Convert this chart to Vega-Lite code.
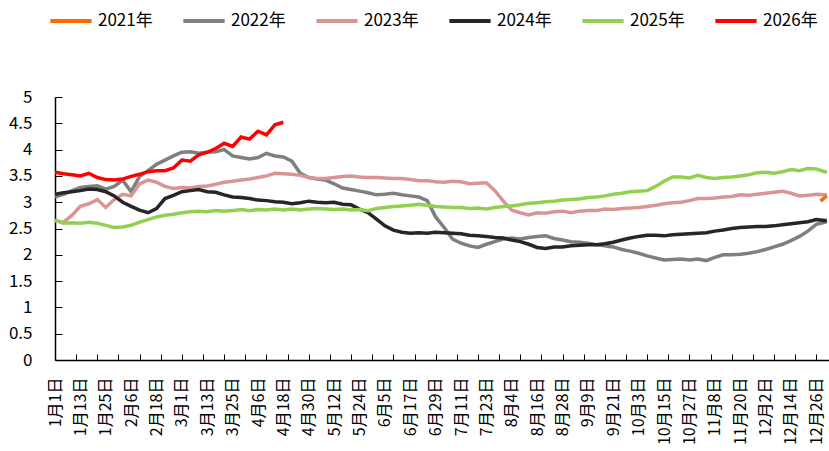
{
  "$schema": "https://vega.github.io/schema/vega-lite/v6.json",
  "width": 774,
  "height": 263,
  "autosize": {"type": "none"},
  "padding": {"left": 55, "top": 97, "right": 0, "bottom": 91},
  "background": "white",
  "config": {"view": {"stroke": null}, "font": "Noto Sans CJK SC"},
  "data": {"values": [
    {"d":0,"2022":3.10,"2023":2.65,"2024":3.15,"2025":2.66,"2026":3.57},
    {"d":4,"2022":3.15,"2023":2.62,"2024":3.18,"2025":2.60,"2026":3.54},
    {"d":8,"2022":3.22,"2023":2.75,"2024":3.20,"2025":2.61,"2026":3.52},
    {"d":12,"2022":3.28,"2023":2.92,"2024":3.22,"2025":2.60,"2026":3.50},
    {"d":16,"2022":3.30,"2023":2.97,"2024":3.25,"2025":2.62,"2026":3.55},
    {"d":20,"2022":3.31,"2023":3.05,"2024":3.24,"2025":2.60,"2026":3.47},
    {"d":24,"2022":3.25,"2023":2.90,"2024":3.20,"2025":2.56,"2026":3.43},
    {"d":28,"2022":3.30,"2023":3.05,"2024":3.12,"2025":2.52,"2026":3.42},
    {"d":32,"2022":3.42,"2023":3.15,"2024":3.00,"2025":2.53,"2026":3.44},
    {"d":36,"2022":3.20,"2023":3.12,"2024":2.92,"2025":2.56,"2026":3.49},
    {"d":40,"2022":3.49,"2023":3.35,"2024":2.85,"2025":2.62,"2026":3.53},
    {"d":44,"2022":3.60,"2023":3.42,"2024":2.80,"2025":2.67,"2026":3.58},
    {"d":48,"2022":3.72,"2023":3.38,"2024":2.88,"2025":2.72,"2026":3.60},
    {"d":52,"2022":3.80,"2023":3.30,"2024":3.07,"2025":2.75,"2026":3.60},
    {"d":56,"2022":3.88,"2023":3.26,"2024":3.13,"2025":2.77,"2026":3.65},
    {"d":60,"2022":3.95,"2023":3.28,"2024":3.20,"2025":2.80,"2026":3.80},
    {"d":64,"2022":3.96,"2023":3.27,"2024":3.22,"2025":2.82,"2026":3.78},
    {"d":68,"2022":3.93,"2023":3.30,"2024":3.24,"2025":2.83,"2026":3.90},
    {"d":72,"2022":3.95,"2023":3.31,"2024":3.20,"2025":2.82,"2026":3.95},
    {"d":76,"2022":3.96,"2023":3.34,"2024":3.19,"2025":2.84,"2026":4.02},
    {"d":80,"2022":4.00,"2023":3.38,"2024":3.14,"2025":2.83,"2026":4.12},
    {"d":84,"2022":3.88,"2023":3.40,"2024":3.10,"2025":2.84,"2026":4.06},
    {"d":88,"2022":3.85,"2023":3.42,"2024":3.09,"2025":2.86,"2026":4.24},
    {"d":92,"2022":3.82,"2023":3.44,"2024":3.07,"2025":2.84,"2026":4.20},
    {"d":96,"2022":3.85,"2023":3.47,"2024":3.04,"2025":2.86,"2026":4.35},
    {"d":100,"2022":3.93,"2023":3.50,"2024":3.03,"2025":2.85,"2026":4.28},
    {"d":104,"2022":3.88,"2023":3.55,"2024":3.01,"2025":2.87,"2026":4.47},
    {"d":108,"2022":3.86,"2023":3.54,"2024":3.00,"2025":2.85,"2026":4.52},
    {"d":112,"2022":3.78,"2023":3.53,"2024":2.97,"2025":2.87},
    {"d":116,"2022":3.55,"2023":3.51,"2024":2.99,"2025":2.85},
    {"d":120,"2022":3.47,"2023":3.47,"2024":3.02,"2025":2.87},
    {"d":124,"2022":3.44,"2023":3.45,"2024":3.00,"2025":2.88},
    {"d":128,"2022":3.42,"2023":3.45,"2024":2.99,"2025":2.87},
    {"d":132,"2022":3.35,"2023":3.47,"2024":3.00,"2025":2.86},
    {"d":136,"2022":3.27,"2023":3.49,"2024":2.96,"2025":2.87},
    {"d":140,"2022":3.24,"2023":3.50,"2024":2.95,"2025":2.85},
    {"d":144,"2022":3.21,"2023":3.48,"2024":2.87,"2025":2.86},
    {"d":148,"2022":3.18,"2023":3.47,"2024":2.80,"2025":2.84},
    {"d":152,"2022":3.14,"2023":3.47,"2024":2.68,"2025":2.88},
    {"d":156,"2022":3.15,"2023":3.46,"2024":2.55,"2025":2.90},
    {"d":160,"2022":3.17,"2023":3.45,"2024":2.47,"2025":2.92},
    {"d":164,"2022":3.14,"2023":3.45,"2024":2.43,"2025":2.93},
    {"d":168,"2022":3.12,"2023":3.43,"2024":2.41,"2025":2.94},
    {"d":172,"2022":3.10,"2023":3.41,"2024":2.42,"2025":2.96},
    {"d":176,"2022":3.03,"2023":3.41,"2024":2.41,"2025":2.94},
    {"d":180,"2022":2.72,"2023":3.39,"2024":2.43,"2025":2.92},
    {"d":184,"2022":2.52,"2023":3.38,"2024":2.42,"2025":2.91},
    {"d":188,"2022":2.30,"2023":3.40,"2024":2.41,"2025":2.90},
    {"d":192,"2022":2.22,"2023":3.39,"2024":2.40,"2025":2.90},
    {"d":196,"2022":2.17,"2023":3.35,"2024":2.37,"2025":2.88},
    {"d":200,"2022":2.14,"2023":3.36,"2024":2.36,"2025":2.89},
    {"d":204,"2022":2.20,"2023":3.37,"2024":2.35,"2025":2.87},
    {"d":208,"2022":2.25,"2023":3.22,"2024":2.33,"2025":2.90},
    {"d":212,"2022":2.30,"2023":3.02,"2024":2.32,"2025":2.92},
    {"d":216,"2022":2.32,"2023":2.85,"2024":2.28,"2025":2.93},
    {"d":220,"2022":2.30,"2023":2.80,"2024":2.25,"2025":2.95},
    {"d":224,"2022":2.33,"2023":2.76,"2024":2.20,"2025":2.98},
    {"d":228,"2022":2.35,"2023":2.80,"2024":2.14,"2025":2.99},
    {"d":232,"2022":2.36,"2023":2.79,"2024":2.12,"2025":3.01},
    {"d":236,"2022":2.31,"2023":2.82,"2024":2.15,"2025":3.02},
    {"d":240,"2022":2.28,"2023":2.83,"2024":2.15,"2025":3.04},
    {"d":244,"2022":2.25,"2023":2.80,"2024":2.17,"2025":3.05},
    {"d":248,"2022":2.24,"2023":2.83,"2024":2.18,"2025":3.06},
    {"d":252,"2022":2.22,"2023":2.84,"2024":2.19,"2025":3.09},
    {"d":256,"2022":2.19,"2023":2.84,"2024":2.19,"2025":3.10},
    {"d":260,"2022":2.17,"2023":2.87,"2024":2.21,"2025":3.12},
    {"d":264,"2022":2.15,"2023":2.86,"2024":2.24,"2025":3.15},
    {"d":268,"2022":2.10,"2023":2.88,"2024":2.28,"2025":3.17},
    {"d":272,"2022":2.07,"2023":2.89,"2024":2.32,"2025":3.20},
    {"d":276,"2022":2.03,"2023":2.90,"2024":2.35,"2025":3.21},
    {"d":280,"2022":1.98,"2023":2.92,"2024":2.37,"2025":3.22},
    {"d":284,"2022":1.94,"2023":2.94,"2024":2.37,"2025":3.30},
    {"d":288,"2022":1.90,"2023":2.97,"2024":2.36,"2025":3.40},
    {"d":292,"2022":1.91,"2023":2.99,"2024":2.38,"2025":3.48},
    {"d":296,"2022":1.92,"2023":3.00,"2024":2.39,"2025":3.48},
    {"d":300,"2022":1.90,"2023":3.03,"2024":2.40,"2025":3.46},
    {"d":304,"2022":1.92,"2023":3.07,"2024":2.41,"2025":3.51},
    {"d":308,"2022":1.89,"2023":3.07,"2024":2.42,"2025":3.47},
    {"d":312,"2022":1.95,"2023":3.08,"2024":2.45,"2025":3.45},
    {"d":316,"2022":2.00,"2023":3.10,"2024":2.47,"2025":3.47},
    {"d":320,"2022":2.00,"2023":3.11,"2024":2.50,"2025":3.48},
    {"d":324,"2022":2.01,"2023":3.14,"2024":2.52,"2025":3.50},
    {"d":328,"2022":2.03,"2023":3.13,"2024":2.53,"2025":3.52},
    {"d":332,"2022":2.06,"2023":3.15,"2024":2.54,"2025":3.56},
    {"d":336,"2022":2.10,"2023":3.17,"2024":2.54,"2025":3.57},
    {"d":340,"2022":2.15,"2023":3.19,"2024":2.55,"2025":3.55},
    {"d":344,"2022":2.20,"2023":3.21,"2024":2.57,"2025":3.58},
    {"d":348,"2022":2.27,"2023":3.17,"2024":2.59,"2025":3.62},
    {"d":352,"2022":2.35,"2023":3.12,"2024":2.61,"2025":3.60},
    {"d":356,"2022":2.45,"2023":3.13,"2024":2.63,"2025":3.64},
    {"d":360,"2022":2.58,"2023":3.15,"2024":2.67,"2025":3.63},
    {"d":362,"2021":3.02},
    {"d":364,"2021":3.09,"2022":2.62,"2023":3.14,"2024":2.65,"2025":3.58},
    {"d":365,"2021":3.12,"2022":2.63,"2023":3.15,"2024":2.66,"2025":3.57}
  ]},
  "transform": [
    {"fold": ["2021","2022","2023","2024","2025","2026"], "as": ["s","v"]},
    {"filter": "isValid(datum.v)"}
  ],
  "mark": {"type": "line", "strokeWidth": 3.5, "clip": true},
  "encoding": {
    "x": {
      "field": "d", "type": "quantitative",
      "scale": {"domain": [0, 366], "nice": false, "zero": false},
      "axis": {
        "title": null, "grid": false,
        "values": [0,10,12,20,24,30,36,40,48,50,60,70,72,80,84,90,96,100,108,110,120,130,132,140,144,150,156,160,168,170,180,190,192,200,204,210,216,220,228,230,240,250,252,260,264,270,276,280,288,290,300,310,312,320,324,330,336,340,348,350,360],
        "labelExpr": "datum.value % 12 === 0 ? timeFormat(datetime(2024, 0, 1 + datum.value), '%-m月%-d日') : ''",
        "labelAngle": -90, "labelFontSize": 16, "labelColor": "#000000",
        "labelPadding": 23, "labelOverlap": false, "labelFlush": false,
        "tickSize": -6,
        "tickColor": {"condition": {"test": "datum.value % 10 === 0", "value": "#000000"}, "value": "transparent"},
        "domainColor": "#000000", "domainWidth": 1.5
      }
    },
    "y": {
      "field": "v", "type": "quantitative",
      "scale": {"domain": [0, 5], "nice": false},
      "axis": {
        "title": null, "grid": false,
        "values": [0,0.5,1,1.5,2,2.5,3,3.5,4,4.5,5],
        "format": "~g",
        "labelFontSize": 17, "labelColor": "#000000",
        "labelPadding": 30, "tickSize": -7, "tickColor": "#000000",
        "domainColor": "#000000", "domainWidth": 1.5
      }
    },
    "color": {
      "field": "s", "type": "nominal",
      "scale": {"domain": ["2021","2022","2023","2024","2025","2026"],
                "range": ["#FF6A00","#7F7F7F","#D99594","#262626","#92D050","#FF0000"]},
      "legend": {
        "title": null, "orient": "none", "direction": "horizontal",
        "legendX": -7, "legendY": -99,
        "symbolType": "stroke", "symbolSize": 1700, "symbolStrokeWidth": 4,
        "labelExpr": "datum.label + '年'",
        "labelFontSize": 17, "labelColor": "#000000", "labelOffset": 4,
        "columnPadding": 22
      }
    }
  }
}
